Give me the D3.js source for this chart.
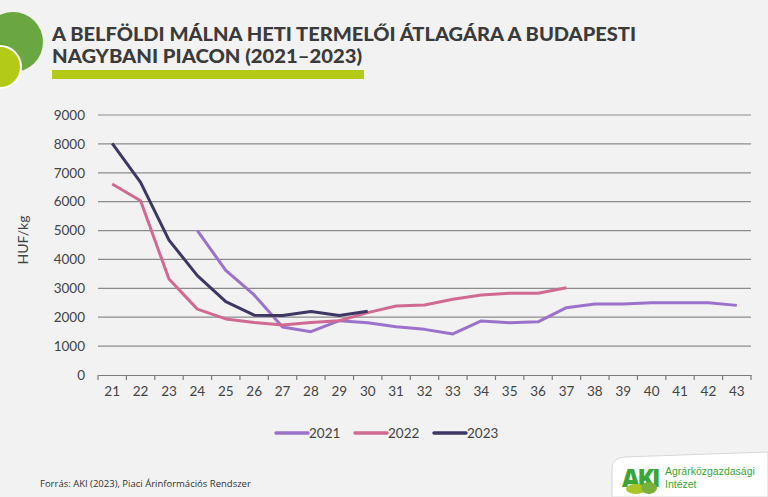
<!DOCTYPE html>
<html><head><meta charset="utf-8">
<script src="https://cdn.jsdelivr.net/npm/d3@7/dist/d3.min.js"></script>
<style>
html,body{margin:0;padding:0;background:#f2f2f2;}
svg{display:block;font-family:Lato,"Open Sans",sans-serif;}
</style></head>
<body>
<svg id="chart" width="768" height="497"></svg>
<script>
const weeks = ["21","22","23","24","25","26","27","28","29","30","31","32","33","34","35","36","37","38","39","40","41","42","43"];
const yTicks = [0,1000,2000,3000,4000,5000,6000,7000,8000,9000];
const seriesNames = ["2021","2022","2023"];
const seriesColors = ["#9b72cb","#d06a93","#3e3764"];
const v2021 = [null,null,null,5000,3620,2770,1660,1500,1880,1810,1670,1580,1420,1870,1810,1840,2330,2460,2460,2500,2500,2500,2410];
const v2022 = [6610,6030,3320,2280,1940,1820,1730,1820,1880,2160,2390,2420,2620,2770,2830,2830,3020];
const v2023 = [8020,6670,4670,3440,2540,2070,2060,2200,2060,2210];
const seriesValues = [v2021, v2022, v2023];

const svg = d3.select("#chart");
// decorative circles
svg.append("circle").attr("cx",13).attr("cy",42).attr("r",30).attr("fill","#6aa740");
svg.append("circle").attr("cx",0).attr("cy",67).attr("r",21).attr("fill","#b3cb16").attr("stroke","#ffffff").attr("stroke-width",2);
// title
const titleLines = [
  {t:"A BELFÖLDI MÁLNA HETI TERMELŐI ÁTLAGÁRA A BUDAPESTI", y:41, w:584},
  {t:"NAGYBANI PIACON (2021–2023)", y:63, w:310}
];
titleLines.forEach(l=>{
  svg.append("text").attr("x",52).attr("y",l.y).attr("fill","#3b3b3b")
    .attr("font-family","Lato,sans-serif").attr("font-weight",900).attr("font-size",18)
    .attr("textLength",l.w).attr("lengthAdjust","spacingAndGlyphs").text(l.t);
});
svg.append("rect").attr("x",52).attr("y",70).attr("width",312).attr("height",9).attr("fill","#b3cb16");

const x = d3.scaleBand().domain(weeks).range([98,751]).padding(0);
const y = d3.scaleLinear().domain([0,9000]).range([375,115]);

// gridlines
svg.append("g").selectAll("line").data(yTicks.filter(d=>d>0)).join("line")
  .attr("x1",98).attr("x2",751).attr("y1",d=>y(d)).attr("y2",d=>y(d))
  .attr("stroke","#8c8c8c").attr("stroke-width",1.2);

// y axis labels
const yAxis = svg.append("g").attr("transform","translate(98,0)")
  .call(d3.axisLeft(y).tickValues(yTicks).tickSize(0).tickPadding(13).tickFormat(d3.format("d")));
yAxis.select(".domain").remove();
yAxis.selectAll("text").attr("font-size",13.5).attr("fill","#444").attr("font-family","Lato,sans-serif");

// x axis
const xAxis = svg.append("g").attr("transform","translate(0,375)")
  .call(d3.axisBottom(x).tickSize(0).tickPadding(11));
xAxis.select(".domain").attr("stroke","#7a7a7a").attr("stroke-width",1.2);
xAxis.selectAll("text").attr("font-size",13.5).attr("fill","#444").attr("font-family","Lato,sans-serif");
svg.append("g").selectAll("line").data(weeks.concat(["end"])).join("line")
  .attr("x1",(d,i)=>98+i*x.bandwidth()).attr("x2",(d,i)=>98+i*x.bandwidth())
  .attr("y1",375).attr("y2",380).attr("stroke","#7a7a7a").attr("stroke-width",1.2);

// y title
svg.append("text").attr("transform","translate(28,240) rotate(-90)").attr("text-anchor","middle")
  .attr("font-size",14).attr("fill","#444").attr("font-family","Lato,sans-serif").text("HUF/kg");

// lines
const line = d3.line().defined(d=>d.v!=null).x(d=>x(d.w)+x.bandwidth()/2).y(d=>y(d.v));
seriesValues.forEach((vals,i)=>{
  const pts = vals.map((v,j)=>({w:weeks[j],v:v}));
  svg.append("path").datum(pts).attr("d",line).attr("fill","none")
    .attr("stroke",seriesColors[i]).attr("stroke-width",3).attr("stroke-linejoin","round");
});

// legend
const legX = [276,355,434];
seriesNames.forEach((n,i)=>{
  svg.append("line").attr("x1",legX[i]).attr("x2",legX[i]+32).attr("y1",433).attr("y2",433)
    .attr("stroke",seriesColors[i]).attr("stroke-width",3.5).attr("stroke-linecap","round");
  svg.append("text").attr("x",legX[i]+33).attr("y",438).attr("font-size",13.5).attr("fill","#444")
    .attr("font-family","Lato,sans-serif").text(n);
});

// source
svg.append("text").attr("x",40).attr("y",487).attr("font-size",9.5).attr("fill","#333")
  .attr("font-family","'Open Sans',sans-serif").text("Forrás: AKI (2023), Piaci Árinformációs Rendszer");

// logo box
svg.append("path").attr("d","M612,497 L612,468 Q612,458 624,457 L768,452 L768,497 Z")
  .attr("fill","#ffffff").attr("stroke","#d8d8d8").attr("stroke-width",1);
svg.append("text").attr("x",622).attr("y",487).attr("font-size",24).attr("font-weight",900)
  .attr("fill","#3aa635").attr("font-family","'Open Sans',sans-serif").attr("letter-spacing",-2).text("AKI");
svg.append("ellipse").attr("cx",636).attr("cy",489).attr("rx",10).attr("ry",5).attr("fill","#a9c624");
svg.append("ellipse").attr("cx",649).attr("cy",488).attr("rx",8).attr("ry",6).attr("fill","#7bb13a");
svg.append("text").attr("x",665).attr("y",475).attr("font-size",10.5).attr("fill","#3aa635")
  .attr("font-family","'Liberation Sans',sans-serif").text("Agrárközgazdasági");
svg.append("text").attr("x",665).attr("y",488).attr("font-size",10.5).attr("fill","#3aa635")
  .attr("font-family","'Liberation Sans',sans-serif").text("Intézet");
</script>
</body></html>
